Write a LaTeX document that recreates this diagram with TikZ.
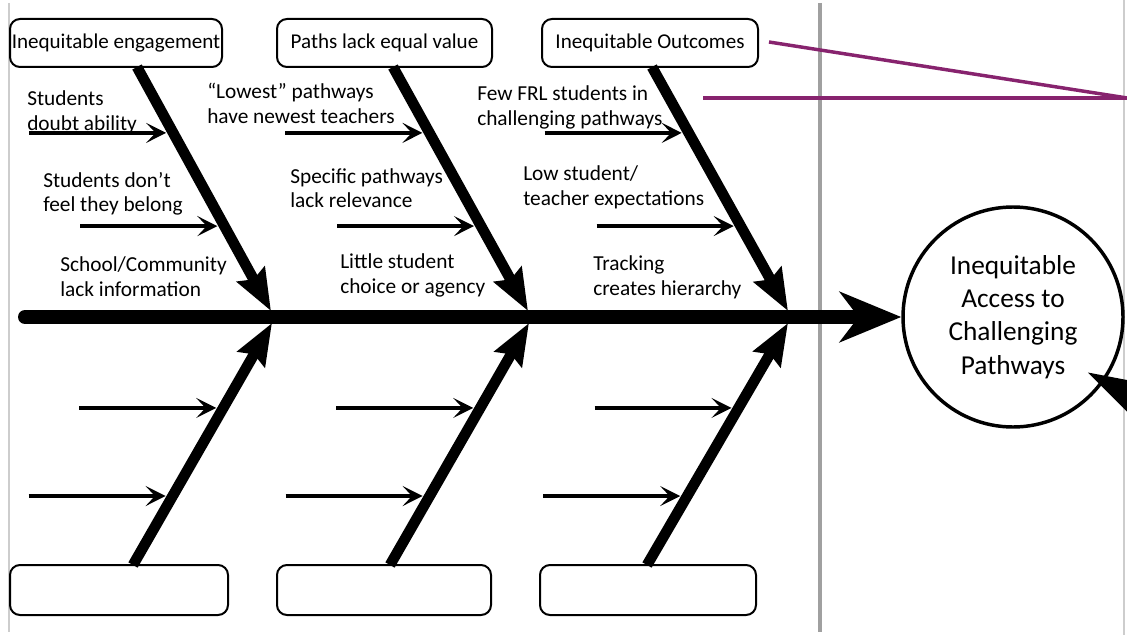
\documentclass[tikz,border=0pt]{standalone}
\usepackage{fontspec}
\setmainfont{Carlito}
\usetikzlibrary{arrows.meta,calc}
\definecolor{plum}{RGB}{135,35,110}
\definecolor{divider}{RGB}{160,160,160}
\definecolor{frame}{RGB}{205,205,205}
\begin{document}
\begin{tikzpicture}[x=0.75pt,y=-0.75pt,
  fishbox/.style={draw, line width=1.5pt, rounded corners=7.5pt, inner sep=0pt,
    minimum height=36pt, font=\fontsize{15.8}{18}\selectfont},
  cause/.style={anchor=west, align=left, inner sep=0pt, font=\fontsize{16}{18.4}\selectfont},
  goalnode/.style={circle, draw, line width=2.6pt, minimum size=165pt, inner sep=0pt,
    align=center, font=\fontsize{20.5}{25}\selectfont},
  spine/.style={line width=10.5pt, line cap=round, -{Stealth[length=46pt,width=37.5pt,inset=14pt]}},
  bone/.style={line width=8pt, -{Stealth[length=31pt,width=23pt,inset=4pt]}},
  rib/.style={line width=2.8pt, -{Stealth[length=15pt,width=15pt,inset=7pt]}},
  link/.style={draw=plum, line width=2.6pt},
]
\useasboundingbox (0,0) rectangle (1127,635);
\fill[white] (0,0) rectangle (1127,635);

% frame and divider rules
\draw[frame, line width=1.2pt] (9,3) -- (9,632);
\draw[frame, line width=1.2pt] (1124,0) -- (1124,635);
\draw[divider, line width=3pt] (820,3) -- (820,632);

% category boxes
\node[fishbox, minimum width=159pt]   (tb1) at (116,43) {Inequitable engagement};
\node[fishbox, minimum width=161.25pt] (tb2) at (384.5,43) {Paths lack equal value};
\node[fishbox, minimum width=162pt]   (tb3) at (650,43) {Inequitable Outcomes};
\node[fishbox, minimum width=163.5pt, minimum height=37.5pt] (bb1) at (119,590) {};
\node[fishbox, minimum width=160.5pt, minimum height=37.5pt] (bb2) at (384,590) {};
\node[fishbox, minimum width=162pt,   minimum height=37.5pt] (bb3) at (648,590) {};

% effect
\node[goalnode] (goal) at (1013,317) {Inequitable\\Access to\\Challenging\\Pathways};

% spine
\coordinate (spL) at (25,317);
\draw[spine] (spL) -- (goal.west);

% bone end points
\coordinate (t1) at (137,67);  \coordinate (u1) at (271,311);
\coordinate (t2) at (393,67);  \coordinate (u2) at (528,311);
\coordinate (t3) at (652,67);  \coordinate (u3) at (788,311);
\coordinate (b1) at (133,565); \coordinate (v1) at (272,323);
\coordinate (b2) at (390,565); \coordinate (v2) at (529,323);
\coordinate (b3) at (647,565); \coordinate (v3) at (788,323);

\foreach \i in {1,2,3}{
  \draw[bone] (t\i) -- (u\i);
  \draw[bone] (b\i) -- (v\i);
  % rib arrows meeting each bone
  \coordinate (ra\i) at ($(t\i)!0.27!(u\i)+(-7,0)$);
  \coordinate (rb\i) at ($(t\i)!0.652!(u\i)+(-7,0)$);
  \coordinate (rc\i) at ($(b\i)!0.649!(v\i)+(-7,0)$);
  \coordinate (rd\i) at ($(b\i)!0.285!(v\i)+(-7,0)$);
  \draw[rib] ($(ra\i)+(-137,0)$) -- (ra\i);
  \draw[rib] ($(rb\i)+(-137,0)$) -- (rb\i);
  \draw[rib] ($(rc\i)+(-137,0)$) -- (rc\i);
  \draw[rib] ($(rd\i)+(-137,0)$) -- (rd\i);
}

% causes
\node[cause] (c1a) at (27,112.5)  {Students\\doubt ability};
\node[cause] (c1b) at (43,194)    {Students don’t\\feel they belong};
\node[cause] (c1c) at (60,276.5)  {School/Community\\lack information};
\node[cause] (c2a) at (207,103.5) {“Lowest” pathways\\have newest teachers};
\node[cause] (c2b) at (290,188)   {Specific pathways\\lack relevance};
\node[cause] (c2c) at (340,275.5) {Little student\\choice or agency};
\node[cause] (c3a) at (477,107.5) {Few FRL students in\\challenging pathways};
\node[cause] (c3b) at (523,187.5) {Low student/\\teacher expectations};
\node[cause] (c3c) at (593,277.5) {Tracking\\creates hierarchy};

% pointer lines
\coordinate (pa) at ($(tb3.east)+(10,-1)$);
\coordinate (pb) at (703,98);
\coordinate (pend1) at (1140,100);
\coordinate (pend2) at (1140,98);
\draw[link] (pa) -- (pend1);
\draw[link] (pb) -- (pend2);

% incoming arrow on the effect
\coordinate (offR) at (1200,432);
\coordinate (tipR) at ($(goal.center)+(74,55)$);
\draw[line width=6pt, -{Triangle[length=46pt,width=26pt]}] (offR) -- (tipR);
\end{tikzpicture}
\end{document}
